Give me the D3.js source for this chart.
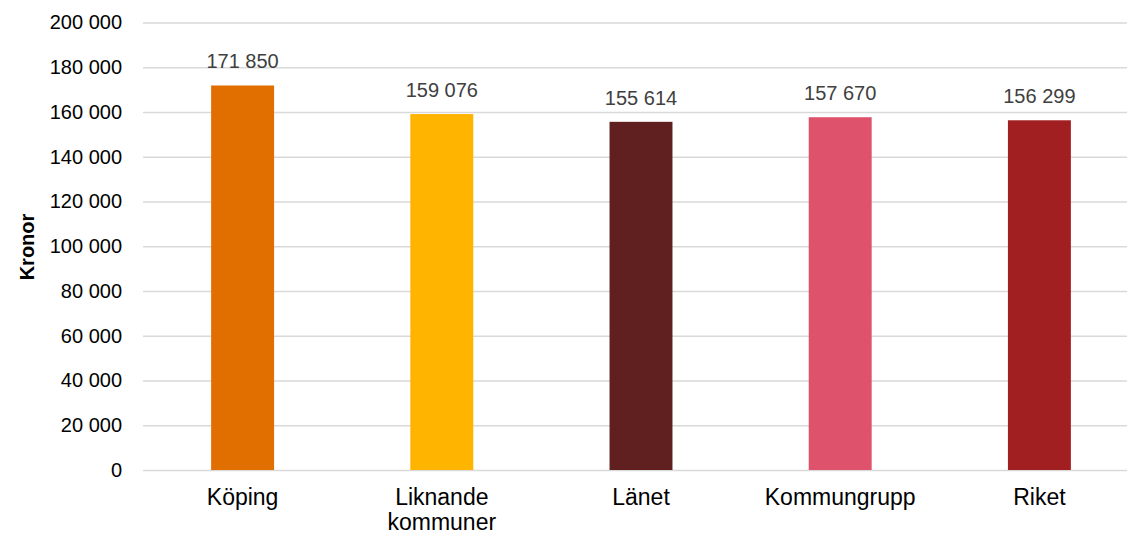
<!DOCTYPE html>
<html>
<head>
<meta charset="utf-8">
<script src="https://cdn.jsdelivr.net/npm/d3@7"></script>
<style>
  body { margin: 0; background: #fff; }
  svg { display: block; font-family: "Liberation Sans", Arial, sans-serif; }
  svg text { font-family: "Liberation Sans", Arial, sans-serif; }
</style>
</head>
<body>
<svg id="svg" width="1127" height="535"></svg>
<script>
var categories = ["Köping", "Liknande kommuner", "Länet", "Kommungrupp", "Riket"];
var values = [171850, 159076, 155614, 157670, 156299];
var barColors = ["#E06F00", "#FFB400", "#612020", "#DE526B", "#A11F21"];
var yTicks = [0, 20000, 40000, 60000, 80000, 100000, 120000, 140000, 160000, 180000, 200000];

var svg = d3.select("#svg");
var padding = { top: 22.5, left: 143, bottom: 65 };
var chartArea = { width: 996, height: 470 - padding.top };

var fmt = function (v) {
  return d3.format(",")(v).replace(/,/g, " ");
};

var yScale = d3.scaleLinear().domain([0, 200000]).range([chartArea.height, 0]);
var xScale = d3.scaleBand().domain(categories).range([0, chartArea.width])
  .paddingInner(0.684).paddingOuter(0.342);

var g = svg.append("g")
  .attr("transform", "translate(" + padding.left + "," + padding.top + ")");

//grid
var grid = g.append("g")
  .call(d3.axisLeft(yScale).tickValues(yTicks).tickSize(-chartArea.width).tickFormat(""));
grid.select(".domain").remove();
grid.selectAll("line").attr("stroke", "#d9d9d9").attr("stroke-width", 1.3);

//y-axis labels
var yAxis = g.append("g")
  .call(d3.axisLeft(yScale).tickValues(yTicks).tickSize(0).tickPadding(21).tickFormat(fmt));
yAxis.select(".domain").remove();
yAxis.selectAll("text")
  .attr("font-size", "20px")
  .attr("fill", "#000");

//bars
g.selectAll("rect.bar")
  .data(values)
  .enter()
  .append("rect")
  .attr("class", "bar")
  .attr("x", function (d, i) { return xScale(categories[i]); })
  .attr("y", function (d) { return yScale(d); })
  .attr("width", xScale.bandwidth())
  .attr("height", function (d) { return chartArea.height - yScale(d); })
  .attr("fill", function (d, i) { return barColors[i]; });

//value labels
g.selectAll("text.val")
  .data(values)
  .enter()
  .append("text")
  .attr("class", "val")
  .attr("x", function (d, i) { return xScale(categories[i]) + xScale.bandwidth() / 2; })
  .attr("y", function (d) { return yScale(d) - 17; })
  .attr("text-anchor", "middle")
  .attr("font-size", "20px")
  .attr("fill", "#404040")
  .text(fmt);

//x labels
var xl = g.selectAll("text.cat")
  .data(categories)
  .enter()
  .append("text")
  .attr("class", "cat")
  .attr("text-anchor", "middle")
  .attr("font-size", "23px")
  .attr("fill", "#000")
  .attr("transform", function (d) {
    return "translate(" + (xScale(d) + xScale.bandwidth() / 2) + "," + (chartArea.height + 35) + ")";
  });
xl.each(function (d) {
  var words = d === "Liknande kommuner" ? ["Liknande", "kommuner"] : [d];
  var t = d3.select(this);
  words.forEach(function (w, i) {
    t.append("tspan").attr("x", 0).attr("dy", i === 0 ? 0 : 25).text(w);
  });
});

//axis title
svg.append("text")
  .attr("transform", "translate(34,247) rotate(-90)")
  .attr("text-anchor", "middle")
  .attr("font-size", "20px")
  .attr("font-weight", "bold")
  .attr("fill", "#000")
  .text("Kronor");
</script>
</body>
</html>
